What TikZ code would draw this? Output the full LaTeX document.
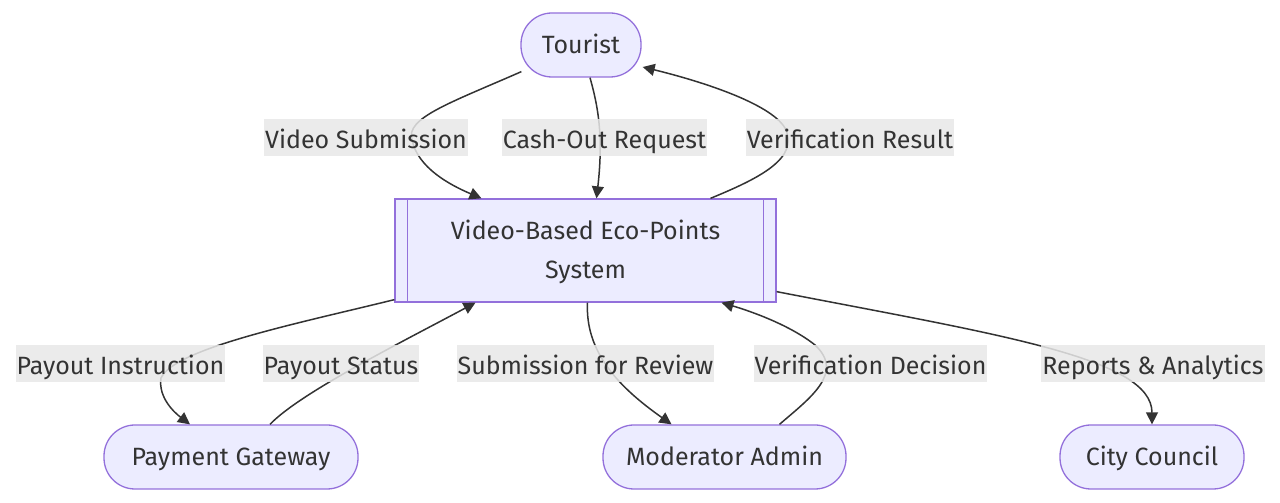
\documentclass[tikz,border=0pt]{standalone}
\usepackage{fontspec}
\setmainfont{Fira Sans}
\usepackage{xcolor}
\definecolor{mainDark}{HTML}{333333}
\definecolor{boxBg}{HTML}{ECECFF}
\definecolor{boxLine}{HTML}{9370DB}
\definecolor{labelBg}{HTML}{E8E8E8}
\usepackage{tikz}
\usetikzlibrary{positioning,calc,arrows.meta}
\tikzset{%
  actorNode/.style={%
    rectangle,
    rounded corners=31pt,
    draw=boxLine,
    line width=1.3pt,
    fill=boxBg,
    text=mainDark,
    minimum height=64pt,
    inner sep=0pt,
    text height=21pt,
    text depth=3pt,
    font=\fontsize{25}{30}\selectfont,
    align=center
  },
  systemBox/.style={%
    rectangle,
    draw=boxLine,
    line width=1.3pt,
    fill=boxBg,
    text=mainDark,
    minimum width=381pt,
    minimum height=103pt,
    inner sep=0pt,
    font=\fontsize{25}{39}\selectfont,
    align=center
  },
  flowLabel/.style={%
    rectangle,
    fill=labelBg,
    fill opacity=0.85,
    text opacity=1,
    text=mainDark,
    inner xsep=1pt,
    inner ysep=0pt,
    text height=23pt,
    text depth=1pt,
    minimum height=37pt,
    font=\fontsize{25}{30}\selectfont
  },
  arrowLine/.style={%
    -{Triangle[length=12pt,width=12pt]},
    line width=1.5pt,
    color=mainDark
  }
}

\begin{document}
\begin{tikzpicture}[x=1pt,y=1pt]
    \useasboundingbox (0,0) rectangle (1280,503);

    % nodes
    \node[actorNode, minimum width=120pt] (tourist) at (581,458) {Tourist};
    \node[systemBox] (system) at (585.5,252.5) {\rule{0pt}{23pt}Video-Based Eco-Points\\System};
    \node[actorNode, minimum width=254pt] (gateway) at (231,46) {Payment Gateway};
    \node[actorNode, minimum width=243pt] (moderator) at (724.5,46) {Moderator Admin};
    \node[actorNode, minimum width=184pt] (council) at (1152,46) {City Council};
    \draw[draw=boxLine, line width=1.3pt] ([xshift=13pt]system.north west) -- ([xshift=13pt]system.south west);
    \draw[draw=boxLine, line width=1.3pt] ([xshift=-13pt]system.north east) -- ([xshift=-13pt]system.south east);

    % connectors
    \draw[arrowLine] ([shift={(1pt,6pt)}]tourist.south west) .. controls (450,400) and (405,385) .. (412,363)
        .. controls (418,335) and (450,318) .. ([xshift=-104pt]system.north);
    \draw[arrowLine] ([xshift=9pt]tourist.south) .. controls (597,400) and (604,370) .. ([xshift=11pt]system.north);
    \draw[arrowLine] ([xshift=125pt]system.north) .. controls (760,325) and (800,345) .. (785,375)
        .. controls (770,400) and (700,422) .. ([shift={(1pt,-22pt)}]tourist.east);
    \draw[arrowLine] ([yshift=3pt]system.south west) .. controls (300,180) and (175,155) .. (161,125)
        .. controls (158,105) and (175,90) .. ([xshift=-41pt]gateway.north);
    \draw[arrowLine] ([xshift=39pt]gateway.north) .. controls (300,110) and (400,160) .. ([xshift=-110pt]system.south);
    \draw[arrowLine] ([xshift=2pt]system.south) .. controls (585,150) and (620,115) .. ([xshift=-53pt]moderator.north);
    \draw[arrowLine] ([xshift=55pt]moderator.north) .. controls (810,105) and (845,130) .. (815,158)
        .. controls (790,178) and (750,192) .. ([xshift=136pt]system.south);
    \draw[arrowLine] ([yshift=11pt]system.south east) .. controls (1000,168) and (1152,145) .. (council.north);

    % labels
    \node[flowLabel] (lblVideo) at (366,365) {Video Submission};
    \node[flowLabel] (lblCash) at (604.5,365) {Cash-Out Request};
    \node[flowLabel] (lblResult) at (850,365) {Verification Result};
    \node[flowLabel] (lblPayIn) at (120.5,139) {Payout Instruction};
    \node[flowLabel] (lblPaySt) at (341,139) {Payout Status};
    \node[flowLabel] (lblReview) at (585.5,139) {Submission for Review};
    \node[flowLabel] (lblDecision) at (870.5,139) {Verification Decision};
    \node[flowLabel] (lblReports) at (1153,139) {Reports \& Analytics};
\end{tikzpicture}
\end{document}
